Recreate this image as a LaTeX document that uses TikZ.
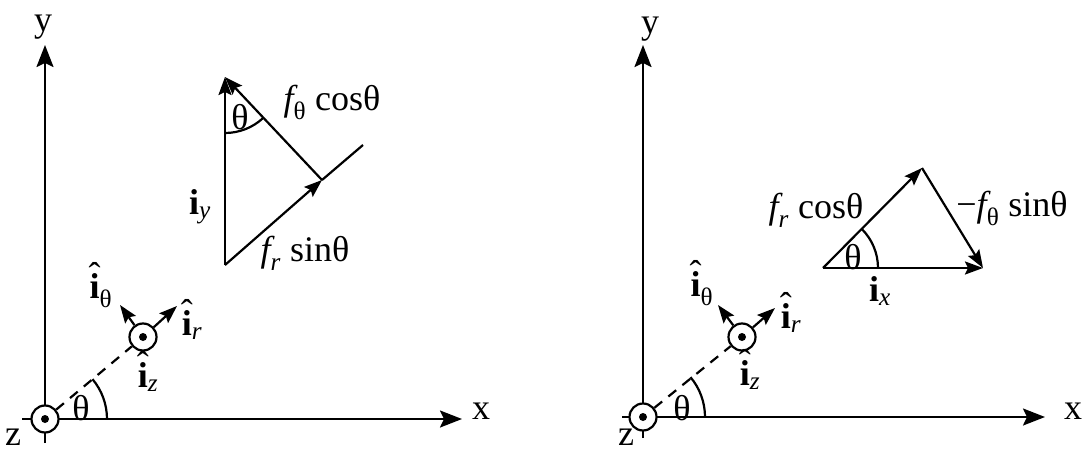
\documentclass[tikz,border=0pt]{standalone}
\usepackage{fontspec}
\usepackage{amsmath}
\setmainfont{Liberation Serif}
\usetikzlibrary{arrows.meta,positioning}

\newcommand{\hati}{\mbox{\ooalign{\bfseries i\cr\hidewidth\raisebox{0.32em}{ˆ}\hidewidth\cr}}}
\newcommand{\hvec}[1]{$\hati_{#1}$}
\newcommand{\bvec}[1]{$\mbox{\bfseries i}_{#1}$}

\begin{document}
\begin{tikzpicture}[x=1pt, y=1pt,
  axis/.style={line width=2.2pt, -{Stealth[length=22pt, width=17pt, inset=4pt]}},
  vec/.style={line width=2.2pt, -{Stealth[length=18pt, width=13pt, inset=3pt]}},
  plain/.style={line width=2.2pt},
  dotnode/.style={circle, draw, fill=white, line width=2.2pt, minimum size=27pt, inner sep=0pt},
  lbl/.style={font=\fontsize{36}{40}\selectfont, inner sep=0pt}
]
\useasboundingbox (0,0) rectangle (1084,451);

% left panel: axes
\coordinate (xl1) at (22,32);
\coordinate (xr1) at (462,32);
\coordinate (yb1) at (45,8);
\coordinate (yt1) at (45,406);
\draw[axis] (xl1) -- (xr1);
\draw[axis] (yb1) -- (yt1);
\node[lbl] (ly1) at (43,424) {y};
\node[lbl] (lx1) at (481,40) {x};
\node[lbl] (lz1) at (13,14) {z};

\node[dotnode] (o1) at (45,32) {};
\node[dotnode] (p1) at (143,114) {};
\fill (o1.center) circle (4pt);
\fill (p1.center) circle (4pt);

\draw[plain, dash pattern=on 10pt off 8pt] (o1) -- (p1);
\draw[plain] ([shift={(0:62)}]o1.center) arc[start angle=0, end angle=40, radius=62];
\node[lbl] (th1) at (81,43) {θ};

\coordinate (tt1) at (120,146);
\coordinate (tr1) at (177,145);
\draw[vec] (p1) -- (tt1);
\draw[vec] (p1) -- (tr1);
\node[lbl] (it1) at (101,160) {\hvec{\text{θ}}};
\node[lbl] (ir1) at (192,126) {\hvec{\textit{r}}};
\node[lbl] (iz1) at (148,74) {\hvec{\textit{z}}};

% left panel: i_y triangle
\coordinate (b1) at (225,186);
\coordinate (t1) at (225,374);
\coordinate (m1) at (322,271);
\coordinate (e1) at (363,306);
\draw[vec] (b1) -- (t1);
\draw[vec] (b1) -- (m1);
\draw[plain] (m1) -- (e1);
\draw[vec] (m1) -- (t1);
\draw[plain] ([shift={(270:56)}]t1) arc[start angle=270, end angle=313, radius=56];
\node[lbl] (tht1) at (240,334) {θ};
\node[lbl] (ft1) at (332,349) {$\textit{f}_{\text{θ}}$\ cosθ};
\node[lbl] (iy1) at (200,244) {\bvec{\textit{y}}};
\node[lbl] (fr1) at (305,198) {$\textit{f}_{\textit{r}}$\ sinθ};

% right panel: axes
\coordinate (xl2) at (622,34);
\coordinate (xr2) at (1045,34);
\coordinate (yb2) at (643,13);
\coordinate (yt2) at (643,406);
\draw[axis] (xl2) -- (xr2);
\draw[axis] (yb2) -- (yt2);
\node[lbl] (ly2) at (650,422) {y};
\node[lbl] (lx2) at (1073,40) {x};
\node[lbl] (lz2) at (626,14) {z};

\node[dotnode] (o2) at (643,34) {};
\node[dotnode] (p2) at (742,114) {};
\fill (o2.center) circle (4pt);
\fill (p2.center) circle (4pt);

\draw[plain, dash pattern=on 10pt off 8pt] (o2) -- (p2);
\draw[plain] ([shift={(0:62)}]o2.center) arc[start angle=0, end angle=40, radius=62];
\node[lbl] (th2) at (682,43) {θ};

\coordinate (tt2) at (718,146);
\coordinate (tr2) at (775,143);
\draw[vec] (p2) -- (tt2);
\draw[vec] (p2) -- (tr2);
\node[lbl] (it2) at (702,162) {\hvec{\text{θ}}};
\node[lbl] (ir2) at (791,133) {\hvec{\textit{r}}};
\node[lbl] (iz2) at (750,76) {\hvec{\textit{z}}};

% right panel: i_x triangle
\coordinate (l2) at (823,183);
\coordinate (t2) at (922,283);
\coordinate (r2) at (983,183);
\draw[vec] (l2) -- (r2);
\draw[vec] (l2) -- (t2);
\draw[vec] (t2) -- (r2);
\draw[plain] ([shift={(0:55)}]l2) arc[start angle=0, end angle=45, radius=55];
\node[lbl] (tht2) at (853,194) {θ};
\node[lbl] (fr2) at (816,241) {$\textit{f}_{\textit{r}}$\ cosθ};
\node[lbl] (ft2) at (1012,243) {−$\textit{f}_{\text{θ}}$\ sinθ};
\node[lbl] (ix2) at (880,160) {\bvec{\textit{x}}};
\end{tikzpicture}
\end{document}
